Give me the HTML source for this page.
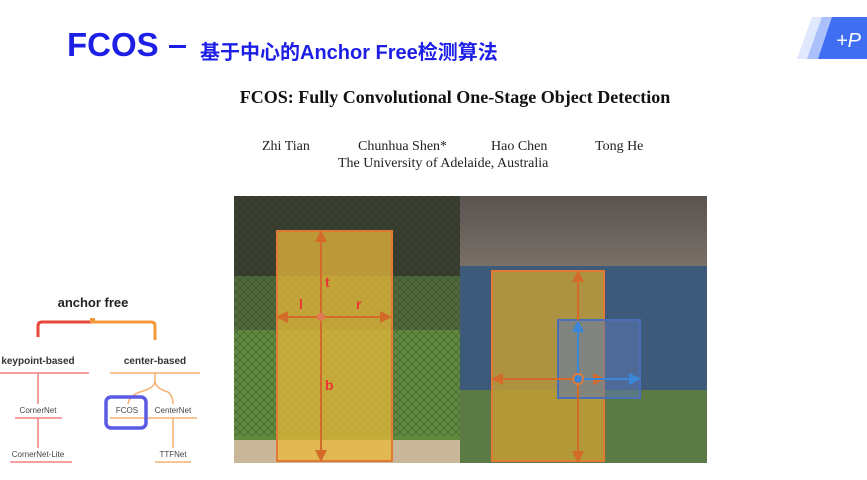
<!DOCTYPE html>
<html><head><meta charset="utf-8"><style>
body{margin:0;width:867px;height:480px;background:#fff;overflow:hidden;position:relative;font-family:"Liberation Sans","Noto Sans CJK SC",sans-serif}
.t{position:absolute;white-space:nowrap}
</style></head><body>
<div class="t" style="left:67px;top:26px;font-size:33px;font-weight:bold;color:#1d1fe6">FCOS</div>
<div class="t" style="left:169px;top:45px;width:17px;height:3px;background:#1d1fe6"></div>
<div class="t" style="left:200px;top:36px;font-size:20px;font-weight:bold;color:#1d1fe6">基于中心的Anchor Free检测算法</div>
<svg style="position:absolute;left:0;top:0" width="867" height="480">
<polygon points="812,17 867,17 867,59 797,59" fill="#dfe8fd"/>
<polygon points="822,17 867,17 867,59 807,59" fill="#a9c0fb"/>
<polygon points="832,17 867,17 867,59 818,59" fill="#3f6ef2"/>
<text x="836" y="47" font-size="20" fill="#fff" font-style="italic" font-family="Liberation Sans">+P</text>
</svg>
<div class="t" style="left:234px;width:442px;text-align:center;top:87px;font-family:'Liberation Serif',serif;font-weight:bold;font-size:18px;color:#111">FCOS: Fully Convolutional One-Stage Object Detection</div>
<div class="t" style="left:262px;top:139px;font-family:'Liberation Serif',serif;font-size:14px;color:#222">Zhi Tian</div>
<div class="t" style="left:358px;top:139px;font-family:'Liberation Serif',serif;font-size:14px;color:#222">Chunhua Shen*</div>
<div class="t" style="left:491px;top:139px;font-family:'Liberation Serif',serif;font-size:14px;color:#222">Hao Chen</div>
<div class="t" style="left:595px;top:139px;font-family:'Liberation Serif',serif;font-size:14px;color:#222">Tong He</div>
<div class="t" style="left:338px;top:156px;font-family:'Liberation Serif',serif;font-size:14px;color:#222">The University of Adelaide, Australia</div>
<svg style="position:absolute;left:0;top:0" width="867" height="480">
<defs>
<linearGradient id="crowd" x1="0" y1="0" x2="0" y2="1"><stop offset="0" stop-color="#5a5350"/><stop offset="1" stop-color="#7a7068"/></linearGradient>
<pattern id="fence" width="8" height="8" patternUnits="userSpaceOnUse"><path d="M0,0L8,8M8,0L0,8" stroke="#222" stroke-width="0.6" opacity="0.5"/></pattern>
<marker id="ao" markerWidth="6" markerHeight="6" refX="3" refY="3" orient="auto"><path d="M0,0L6,3L0,6z" fill="#d46a2a"/></marker>
<marker id="ab" markerWidth="6" markerHeight="6" refX="3" refY="3" orient="auto"><path d="M0,0L6,3L0,6z" fill="#3a86d8"/></marker>
</defs>
<rect x="234" y="196" width="226" height="267" fill="#4f6a3a"/>
<rect x="234" y="196" width="226" height="80" fill="#3a4030"/>
<rect x="234" y="330" width="226" height="110" fill="#5f8a3e"/>
<rect x="234" y="196" width="226" height="240" fill="url(#fence)"/>
<rect x="234" y="440" width="226" height="23" fill="#c9b79a"/>
<rect x="277" y="231" width="115" height="230" fill="#e8b83a" fill-opacity="0.75" stroke="#e07a35" stroke-width="2"/>
<line x1="321" y1="317" x2="321" y2="236" stroke="#d46a2a" stroke-width="2" marker-end="url(#ao)"/>
<line x1="321" y1="317" x2="321" y2="456" stroke="#d46a2a" stroke-width="2" marker-end="url(#ao)"/>
<line x1="321" y1="317" x2="282" y2="317" stroke="#d46a2a" stroke-width="2" marker-end="url(#ao)"/>
<line x1="321" y1="317" x2="386" y2="317" stroke="#d46a2a" stroke-width="2" marker-end="url(#ao)"/>
<circle cx="321" cy="317" r="4" fill="#e07a55"/>
<text x="325" y="287" font-size="14" font-weight="bold" fill="#e33">t</text>
<text x="299" y="309" font-size="14" font-weight="bold" fill="#e33">l</text>
<text x="356" y="309" font-size="14" font-weight="bold" fill="#e33">r</text>
<text x="325" y="390" font-size="14" font-weight="bold" fill="#e33">b</text>
<rect x="460" y="196" width="247" height="267" fill="#3e5a7a"/>
<rect x="460" y="196" width="247" height="70" fill="url(#crowd)"/>
<rect x="460" y="390" width="247" height="73" fill="#5c7a45"/>
<rect x="492" y="271" width="112" height="190" fill="#c9a035" fill-opacity="0.8" stroke="#e07a35" stroke-width="2"/>
<rect x="558" y="320" width="82" height="78" fill="#5a78b0" fill-opacity="0.55" stroke="#4a6fb8" stroke-width="2"/>
<line x1="578" y1="379" x2="578" y2="276" stroke="#d46a2a" stroke-width="2" marker-end="url(#ao)"/>
<line x1="578" y1="379" x2="578" y2="457" stroke="#d46a2a" stroke-width="2" marker-end="url(#ao)"/>
<line x1="578" y1="379" x2="497" y2="379" stroke="#d46a2a" stroke-width="2" marker-end="url(#ao)"/>
<line x1="578" y1="379" x2="599" y2="379" stroke="#d46a2a" stroke-width="2" marker-end="url(#ao)"/>
<line x1="578" y1="379" x2="578" y2="326" stroke="#3a86d8" stroke-width="2" marker-end="url(#ab)"/>
<line x1="578" y1="379" x2="635" y2="379" stroke="#3a86d8" stroke-width="2" marker-end="url(#ab)"/>
<circle cx="578" cy="379" r="5" fill="#3a86d8" stroke="#e07a35" stroke-width="2"/>
<text x="93" y="307" font-size="13" font-weight="bold" text-anchor="middle" fill="#222">anchor free</text>
<path d="M38,337 V326 Q38,322 42,322 H92" fill="none" stroke="#e8473a" stroke-width="3"/>
<path d="M92,322 H151 Q155,322 155,326 V340" fill="none" stroke="#f29a3a" stroke-width="3"/>
<rect x="90" y="318" width="5" height="5" fill="#f29a3a"/>
<text x="38" y="364" font-size="10" font-weight="bold" text-anchor="middle" fill="#333">keypoint-based</text>
<text x="155" y="364" font-size="10" font-weight="bold" text-anchor="middle" fill="#333">center-based</text>
<line x1="0" y1="373" x2="89" y2="373" stroke="#f08080" stroke-width="1.5"/>
<line x1="110" y1="373" x2="200" y2="373" stroke="#f6b070" stroke-width="1.5"/>
<line x1="38" y1="373" x2="38" y2="404" stroke="#f08080" stroke-width="1.5"/>
<text x="38" y="413" font-size="8" text-anchor="middle" fill="#444">CornerNet</text>
<line x1="15" y1="418" x2="62" y2="418" stroke="#f08080" stroke-width="1.5"/>
<line x1="38" y1="418" x2="38" y2="448" stroke="#f08080" stroke-width="1.5"/>
<text x="38" y="457" font-size="8" text-anchor="middle" fill="#444">CornerNet-Lite</text>
<line x1="10" y1="462" x2="72" y2="462" stroke="#f08080" stroke-width="1.5"/>
<path d="M155,373 V381 Q155,388 140,392 Q129,396 128,404 M155,381 Q155,388 168,392 Q173,396 173,404" fill="none" stroke="#f6b070" stroke-width="1.5"/>
<text x="127" y="413" font-size="8" text-anchor="middle" fill="#444">FCOS</text>
<text x="173" y="413" font-size="8" text-anchor="middle" fill="#444">CenterNet</text>
<line x1="110" y1="418" x2="197" y2="418" stroke="#f6b070" stroke-width="1.5"/>
<line x1="173" y1="418" x2="173" y2="448" stroke="#f6b070" stroke-width="1.5"/>
<text x="173" y="457" font-size="8" text-anchor="middle" fill="#444">TTFNet</text>
<line x1="155" y1="462" x2="191" y2="462" stroke="#f6b070" stroke-width="1.5"/>
<rect x="106" y="397" width="40" height="31" rx="5" fill="none" stroke="#5a5ae6" stroke-width="3.5"/>
</svg>
</body></html>
